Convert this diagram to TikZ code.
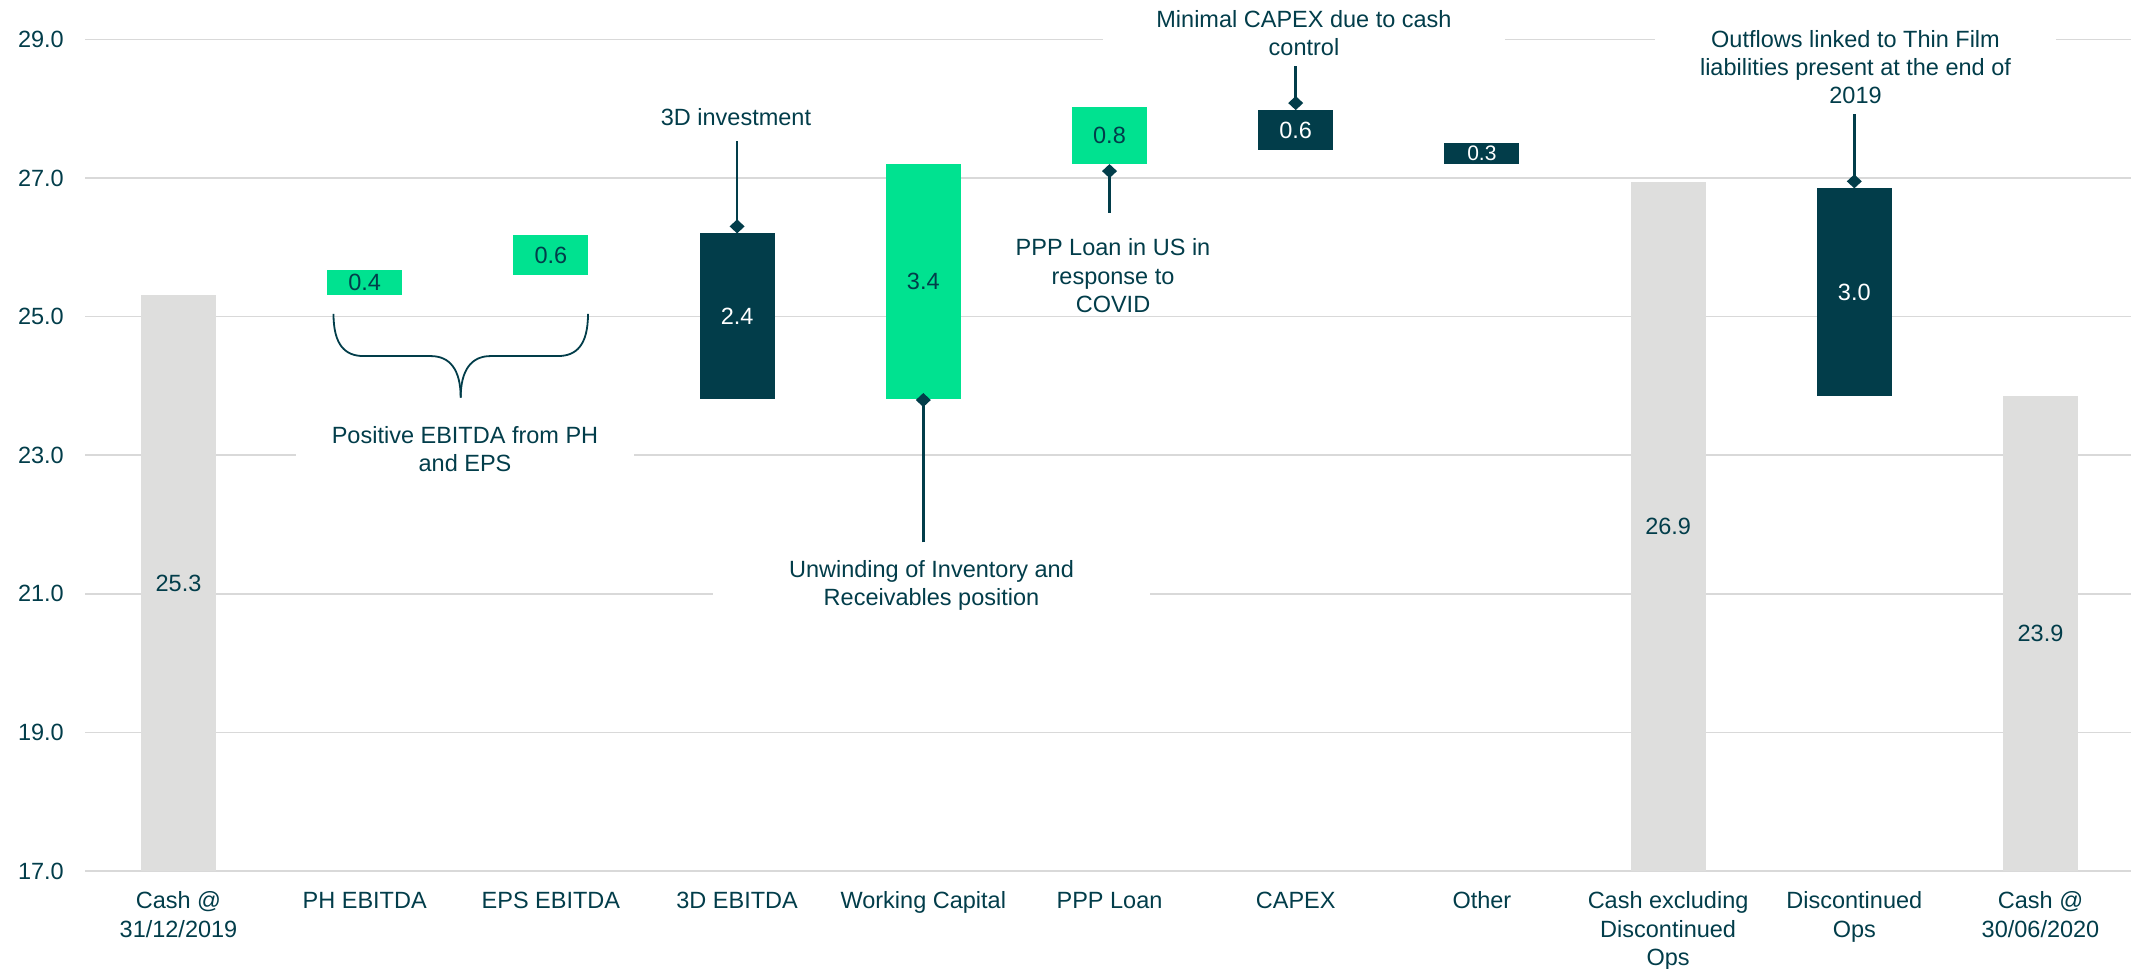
\documentclass[tikz,border=0pt]{standalone}
\usepackage{fontspec}
\setmainfont{Liberation Sans}
\usetikzlibrary{arrows.meta,fit}
\definecolor{ink}{RGB}{2,61,74}
\definecolor{barDark}{RGB}{2,61,74}
\definecolor{barGreen}{RGB}{0,226,144}
\definecolor{barGray}{RGB}{222,222,221}
\definecolor{gridGray}{RGB}{217,217,217}
\newcommand\chartfont{\fontsize{23.5pt}{28.3pt}\selectfont}
\newcommand\smallchartfont{\fontsize{21pt}{25pt}\selectfont}
\begin{document}
\begin{tikzpicture}[x=1pt,y=69.3pt,
  txt/.style={text=ink,font=\chartfont,inner sep=0pt},
  cat/.style={txt,anchor=north,align=center},
  ann/.style={txt,align=center,fill=white,inner ysep=3pt},
  gridline/.style={draw=gridGray,line width=1.6pt},
  barbox/.style={inner sep=0pt,outer sep=0pt,draw=none},
  up/.style={barbox,fill=barGreen},
  down/.style={barbox,fill=barDark},
  total/.style={barbox,fill=barGray},
  onlight/.style={txt},
  ondark/.style={txt,text=white},
  conn/.style={draw=ink,line width=2.6pt,-{Diamond[length=14pt,width=15pt]}},
  bracestyle/.style={draw=ink,line width=1.8pt}]
\useasboundingbox (0,15.5859) rectangle (2131,29.5685);

% gridlines and y axis labels
\foreach \v in {17,19,...,29}{
  \draw[gridline] (85,\v) -- (2131,\v);
  \node[txt,anchor=east] (y\v) at (64,\v) {\v.0};
}

% annotation boxes (white background hides gridlines)
\node[txt] (a3D) at (736,27.88) {3D investment};
\node[ann,minimum width=402pt] (aCapex) at (1304,29.09) {Minimal CAPEX due to cash\\control};
\node[ann,minimum width=401pt] (aOut) at (1855.5,28.60) {Outflows linked to Thin Film\\liabilities present at the end of\\2019};
\node[ann,minimum width=242pt] (aPPP) at (1113,25.59) {PPP Loan in US in\\response to\\COVID};
\node[ann,minimum width=437pt] (aWC) at (931.5,21.12) {Unwinding of Inventory and\\Receivables position};
\node[ann,minimum width=338pt] (aPos) at (465,23.09) {Positive EBITDA from PH\\and EPS};

% bars
\node[total,fit={(141,17)(216,25.31)}] (b0) {};
\node[up,fit={(327.2,25.31)(402.2,25.67)}] (b1) {};
\node[up,fit={(513.4,25.60)(588.4,26.17)}] (b2) {};
\node[down,fit={(699.6,23.81)(774.6,26.20)}] (b3) {};
\node[up,fit={(885.8,23.81)(960.8,27.20)}] (b4) {};
\node[up,fit={(1072,27.20)(1147,28.02)}] (b5) {};
\node[down,fit={(1258.2,27.40)(1333.2,27.98)}] (b6) {};
\node[down,fit={(1444.4,27.20)(1519.4,27.51)}] (b7) {};
\node[total,fit={(1630.6,17)(1705.6,26.94)}] (b8) {};
\node[down,fit={(1816.8,23.86)(1891.8,26.85)}] (b9) {};
\node[total,fit={(2003,17)(2078,23.86)}] (b10) {};

% bar value labels
\node[onlight] (l0) at (b0) {25.3};
\node[onlight] (l1) at (b1) {0.4};
\node[onlight] (l2) at (b2) {0.6};
\node[ondark] (l3) at (b3) {2.4};
\node[onlight] (l4) at (b4) {3.4};
\node[onlight] (l5) at (b5) {0.8};
\node[ondark] (l6) at (b6) {0.6};
\node[ondark,font=\smallchartfont] (l7) at (b7) {0.3};
\node[onlight] (l8) at (b8) {26.9};
\node[ondark] (l9) at (b9) {3.0};
\node[onlight] (l10) at (b10) {23.9};

% category labels
\node[cat] (c0) at (178.5,16.70) {Cash @\\31/12/2019};
\node[cat] (c1) at (364.7,16.70) {PH EBITDA};
\node[cat] (c2) at (550.9,16.70) {EPS EBITDA};
\node[cat] (c3) at (737.1,16.70) {3D EBITDA};
\node[cat] (c4) at (923.3,16.70) {Working Capital};
\node[cat] (c5) at (1109.5,16.70) {PPP Loan};
\node[cat] (c6) at (1295.7,16.70) {CAPEX};
\node[cat] (c7) at (1481.9,16.70) {Other};
\node[cat] (c8) at (1668.1,16.70) {Cash excluding\\Discontinued\\Ops};
\node[cat] (c9) at (1854.3,16.70) {Discontinued\\Ops};
\node[cat] (c10) at (2040.5,16.70) {Cash @\\30/06/2020};

% brace
\path[bracestyle] (333.5,25.04) .. controls (333.5,24.59) and (345,24.43) .. (363.8,24.43)
  -- (430.8,24.43) .. controls (450,24.43) and (460.7,24.23) .. (460.7,23.83);
\path[bracestyle] (588,25.04) .. controls (588,24.59) and (576.5,24.43) .. (557.7,24.43)
  -- (490.6,24.43) .. controls (471.4,24.43) and (460.7,24.23) .. (460.7,23.83);

% connectors
\coordinate (k3) at (737.1,27.53);
\coordinate (k4) at (923.3,21.74);
\coordinate (k5) at (1109.5,26.50);
\coordinate (k6) at (1295.7,28.61);
\coordinate (k9) at (1854.3,27.92);
\draw[conn] (k3) -- (b3.north);
\draw[conn,shorten >=-6pt] (k4) -- (b4.south);
\draw[conn] (k5) -- (b5.south);
\draw[conn] (k6) -- (b6.north);
\draw[conn] (k9) -- (b9.north);
\end{tikzpicture}
\end{document}
